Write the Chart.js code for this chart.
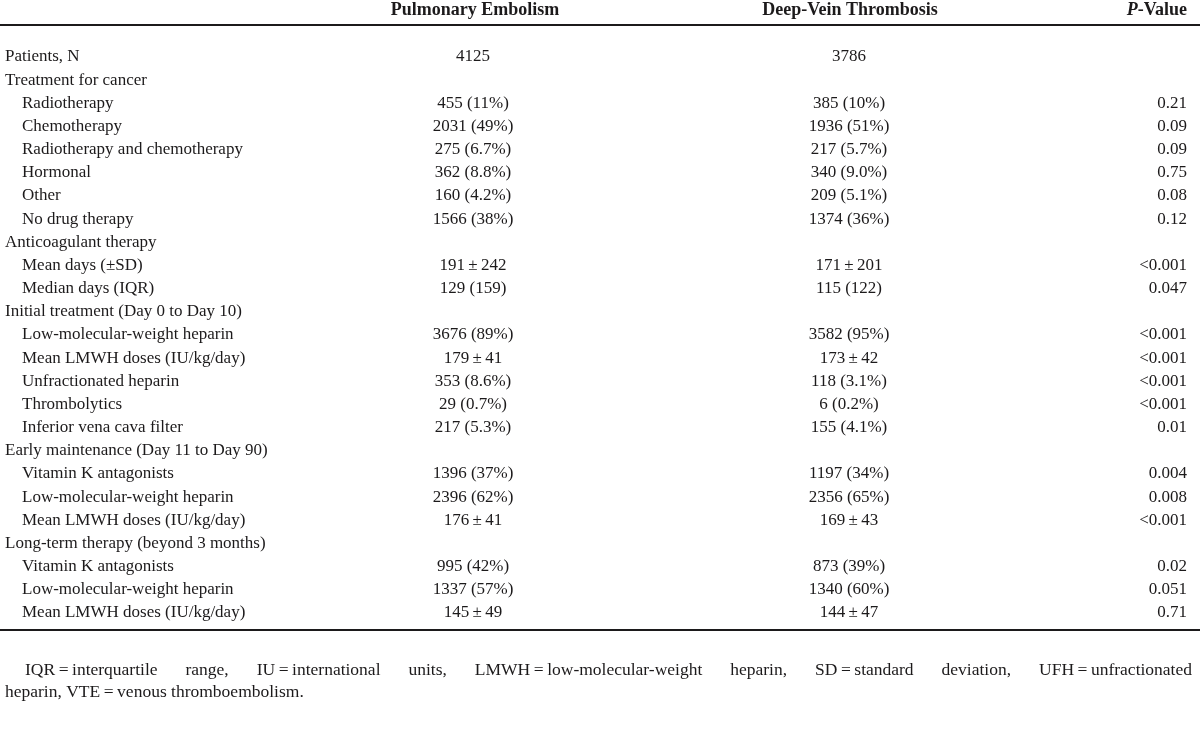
<!DOCTYPE html>
<html>
<head>
<meta charset="utf-8">
<script src="https://cdn.jsdelivr.net/npm/chart.js@4"></script>
<style>
  html, body { margin: 0; padding: 0; background: #fff; }
  #wrap { width: 1200px; height: 740px; position: relative; }
</style>
</head>
<body>
<div id="wrap"><canvas id="table"></canvas></div>
<script>
// column headers
const headers = ["Pulmonary Embolism", "Deep-Vein Thrombosis", "P-Value"];

// row labels, 1 = indented sub row
const rowLabels = [
  "Patients, N",
  "Treatment for cancer",
  "Radiotherapy",
  "Chemotherapy",
  "Radiotherapy and chemotherapy",
  "Hormonal",
  "Other",
  "No drug therapy",
  "Anticoagulant therapy",
  "Mean days (\u00b1SD)",
  "Median days (IQR)",
  "Initial treatment (Day 0 to Day 10)",
  "Low-molecular-weight heparin",
  "Mean LMWH doses (IU/kg/day)",
  "Unfractionated heparin",
  "Thrombolytics",
  "Inferior vena cava filter",
  "Early maintenance (Day 11 to Day 90)",
  "Vitamin K antagonists",
  "Low-molecular-weight heparin",
  "Mean LMWH doses (IU/kg/day)",
  "Long-term therapy (beyond 3 months)",
  "Vitamin K antagonists",
  "Low-molecular-weight heparin",
  "Mean LMWH doses (IU/kg/day)",
];
const rowIndent = [0, 0, 1, 1, 1, 1, 1, 1, 0, 1, 1, 0, 1, 1, 1, 1, 1, 0, 1, 1, 1, 0, 1, 1, 1];

const pm = "\u2009\u00b1\u2009";
const peValues = [
  "4125", "", "455 (11%)", "2031 (49%)", "275 (6.7%)", "362 (8.8%)", "160 (4.2%)", "1566 (38%)",
  "", "191" + pm + "242", "129 (159)",
  "", "3676 (89%)", "179" + pm + "41", "353 (8.6%)", "29 (0.7%)", "217 (5.3%)",
  "", "1396 (37%)", "2396 (62%)", "176" + pm + "41",
  "", "995 (42%)", "1337 (57%)", "145" + pm + "49",
];
const dvtValues = [
  "3786", "", "385 (10%)", "1936 (51%)", "217 (5.7%)", "340 (9.0%)", "209 (5.1%)", "1374 (36%)",
  "", "171" + pm + "201", "115 (122)",
  "", "3582 (95%)", "173" + pm + "42", "118 (3.1%)", "6 (0.2%)", "155 (4.1%)",
  "", "1197 (34%)", "2356 (65%)", "169" + pm + "43",
  "", "873 (39%)", "1340 (60%)", "144" + pm + "47",
];
const pValues = [
  "", "", "0.21", "0.09", "0.09", "0.75", "0.08", "0.12",
  "", "<0.001", "0.047",
  "", "<0.001", "<0.001", "<0.001", "<0.001", "0.01",
  "", "0.004", "0.008", "<0.001",
  "", "0.02", "0.051", "0.71",
];

const footnote = [
  "IQR\u2009=\u2009interquartile range, IU\u2009=\u2009international units, LMWH\u2009=\u2009low-molecular-weight heparin, SD\u2009=\u2009standard deviation, UFH\u2009=\u2009unfractionated",
  "heparin, VTE\u2009=\u2009venous thromboembolism.",
];

const INK = "#1c1a1b";
const FONT = "'Liberation Serif', 'DejaVu Serif', serif";

// draws the table text on top of the (invisible) category scale
const tablePlugin = {
  id: "tableText",
  afterDraw(chart) {
    const ctx = chart.ctx;
    const y = chart.scales.y;
    const area = chart.chartArea;
    const colPE = 473, colDVT = 849, colP = 1187;

    ctx.save();
    ctx.fillStyle = INK;
    ctx.strokeStyle = INK;
    ctx.textBaseline = "middle";

    // header
    const headY = area.top - 47;
    ctx.font = "bold 18px " + FONT;
    ctx.textAlign = "center";
    ctx.fillText(headers[0], colPE + 2, headY);
    ctx.fillText(headers[1], colDVT + 1, headY);
    ctx.textAlign = "right";
    const rest = headers[2].slice(1);
    ctx.fillText(rest, colP, headY);
    const w = ctx.measureText(rest).width;
    ctx.font = "italic bold 18px " + FONT;
    ctx.fillText(headers[2][0], colP - w, headY);

    // rules
    ctx.lineWidth = 2;
    ctx.beginPath();
    ctx.moveTo(0, area.top - 32);
    ctx.lineTo(1200, area.top - 32);
    ctx.moveTo(0, area.bottom + 17);
    ctx.lineTo(1200, area.bottom + 17);
    ctx.stroke();

    // rows
    ctx.font = "17px " + FONT;
    rowLabels.forEach((label, i) => {
      const py = y.getPixelForValue(i);
      ctx.textAlign = "left";
      ctx.fillText(label, rowIndent[i] ? 22 : 5, py);
      ctx.textAlign = "center";
      ctx.fillText(peValues[i], colPE, py);
      ctx.fillText(dvtValues[i], colDVT, py);
      ctx.textAlign = "right";
      ctx.fillText(pValues[i], colP, py);
    });

    // footnote, first line justified
    ctx.font = "17.5px " + FONT;
    ctx.textAlign = "left";
    const f1 = area.bottom + 57;
    const words = footnote[0].split(" ");
    const left = 25, right = 1192;
    const total = words.reduce((s, wd) => s + ctx.measureText(wd).width, 0);
    const gap = (right - left - total) / (words.length - 1);
    let x = left;
    words.forEach((wd) => {
      ctx.fillText(wd, x, f1);
      x += ctx.measureText(wd).width + gap;
    });
    ctx.fillText(footnote[1], 5, f1 + 22);
    ctx.restore();
  },
};

new Chart(document.getElementById("table"), {
  type: "scatter",
  data: {
    datasets: [
      {
        data: rowLabels.map((l, i) => ({ x: 0, y: l })),
        pointRadius: 0,
        showLine: false,
      },
    ],
  },
  options: {
    responsive: true,
    maintainAspectRatio: false,
    animation: false,
    events: [],
    layout: { padding: { top: 57, bottom: 127, left: 0, right: 0 } },
    plugins: { legend: { display: false }, tooltip: { enabled: false } },
    scales: {
      x: { type: "linear", display: false, min: 0, max: 1 },
      y: { type: "category", labels: rowLabels, display: false, offset: false },
    },
  },
  plugins: [tablePlugin],
});
</script>
</body>
</html>
